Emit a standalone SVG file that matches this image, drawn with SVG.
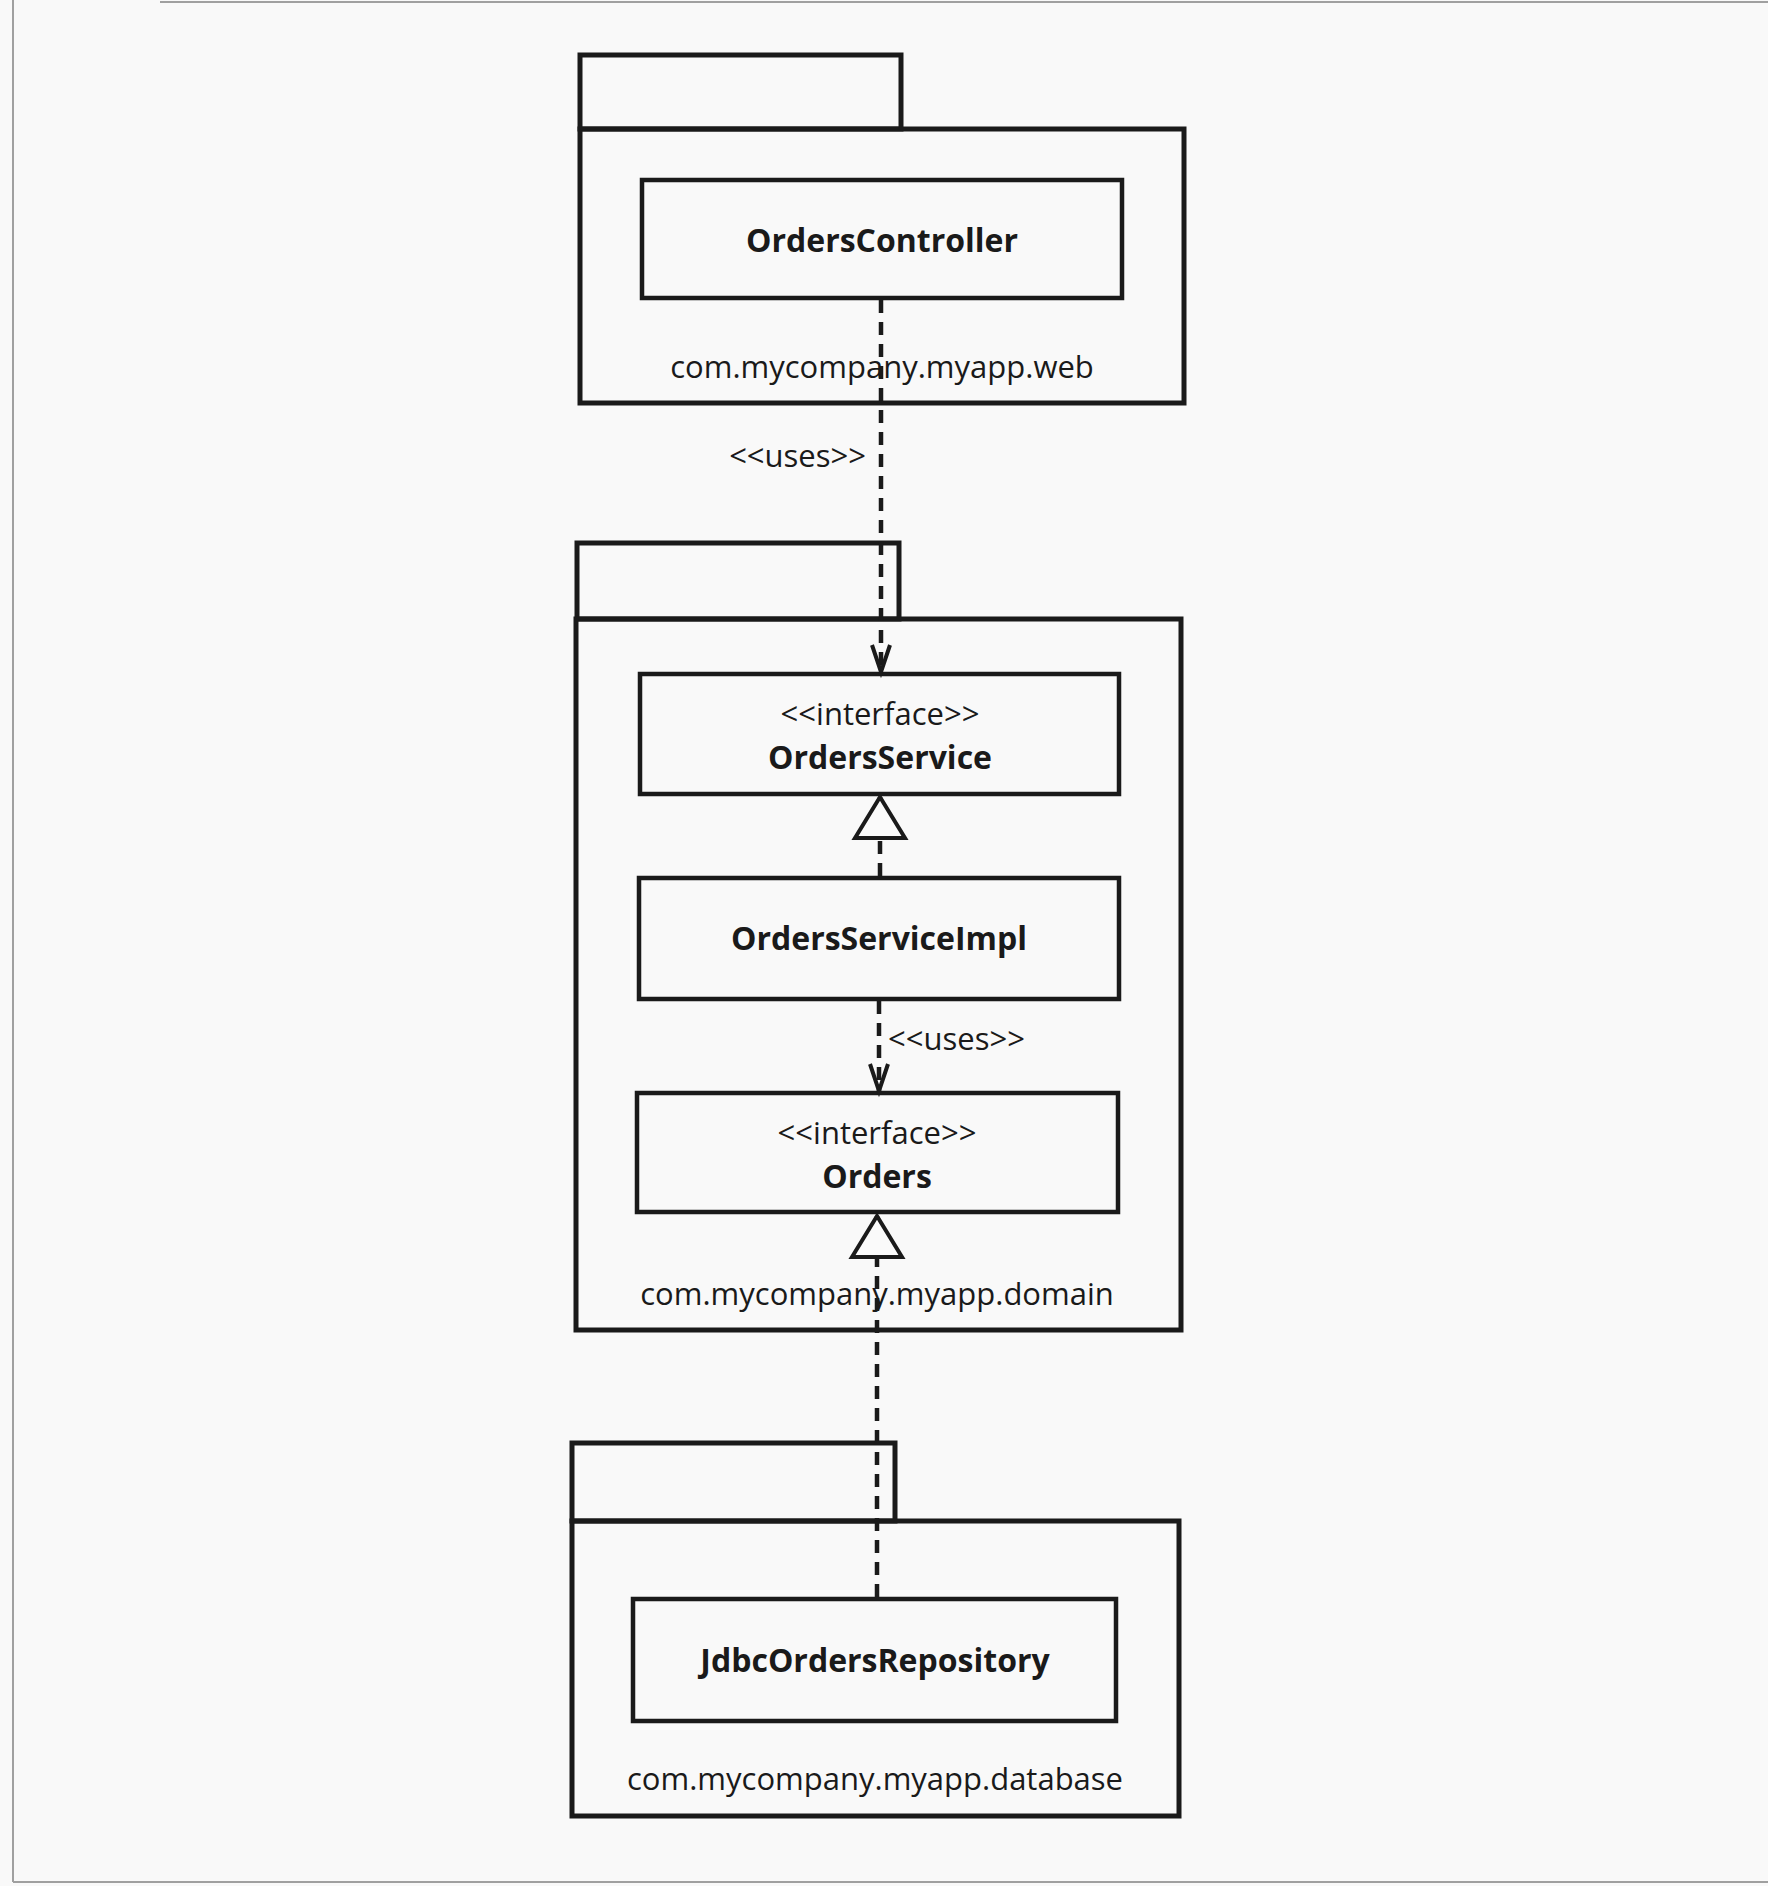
<svg xmlns="http://www.w3.org/2000/svg" width="1768" height="1886" viewBox="0 0 1768 1886">
<style>
.pkg{fill:none;stroke:#1a1a1a;stroke-width:5}
.cls{fill:none;stroke:#1a1a1a;stroke-width:4.5}
.t{font-family:"Open Sans","Noto Sans","Liberation Sans",sans-serif;font-size:31px;fill:#1a1a1a;text-anchor:middle}
.b{font-weight:bold;font-size:32px}
.dash{fill:none;stroke:#1a1a1a;stroke-width:4.5;stroke-dasharray:13 9}
.edge{stroke:#a0a0a0;stroke-width:2;fill:none}
</style>
<defs>
<marker id="open" viewBox="0 0 28 20" refX="27" refY="10" markerWidth="28" markerHeight="20" markerUnits="userSpaceOnUse" orient="auto" overflow="visible">
<path d="M0,1 L27,10 L0,19" fill="none" stroke="#1a1a1a" stroke-width="4"/>
</marker>
<marker id="tri" viewBox="0 0 41 50" refX="41" refY="25" markerWidth="41" markerHeight="50" markerUnits="userSpaceOnUse" orient="auto" overflow="visible">
<path d="M0,0 L41,25 L0,50 Z" fill="#fafafa" stroke="#1a1a1a" stroke-width="4" stroke-linejoin="miter"/>
</marker>
</defs>
<rect x="0" y="0" width="1768" height="1886" fill="#f9f9f9"/>
<g id="page-edge">
<line class="edge" x1="13" y1="0" x2="13" y2="1882"/>
<line class="edge" x1="13" y1="1882" x2="1768" y2="1882"/>
<line class="edge" x1="160" y1="2" x2="1768" y2="2" stroke="#c8c8c8"/>
</g>
<g id="pkg-web">
<rect class="pkg" x="580" y="55" width="321" height="74"/>
<rect class="pkg" x="580" y="129" width="604" height="274"/>
<text class="t" x="882" y="378">com.mycompany.myapp.web</text>
</g>
<g id="OrdersController">
<rect class="cls" x="642" y="180" width="480" height="118"/>
<text class="t b" x="882" y="252">OrdersController</text>
</g>
<g id="pkg-domain">
<rect class="pkg" x="577" y="543" width="322" height="76"/>
<rect class="pkg" x="576" y="619" width="605" height="711"/>
<text class="t" x="877" y="1305">com.mycompany.myapp.domain</text>
</g>
<g id="OrdersService">
<rect class="cls" x="640" y="674" width="479" height="120"/>
<text class="t" x="880" y="725">&lt;&lt;interface&gt;&gt;</text>
<text class="t b" x="880" y="769">OrdersService</text>
</g>
<g id="OrdersServiceImpl">
<rect class="cls" x="639" y="878" width="480" height="121"/>
<text class="t b" x="879" y="950">OrdersServiceImpl</text>
</g>
<g id="Orders">
<rect class="cls" x="637" y="1093" width="481" height="119"/>
<text class="t" x="877" y="1144">&lt;&lt;interface&gt;&gt;</text>
<text class="t b" x="877" y="1188">Orders</text>
</g>
<g id="pkg-database">
<rect class="pkg" x="572" y="1443" width="323" height="78"/>
<rect class="pkg" x="572" y="1521" width="607" height="295"/>
<text class="t" x="875" y="1790">com.mycompany.myapp.database</text>
</g>
<g id="JdbcOrdersRepository">
<rect class="cls" x="633" y="1599" width="483" height="122"/>
<text class="t b" x="875" y="1672">JdbcOrdersRepository</text>
</g>
<g id="connectors">
<path class="dash" d="M881,300 L881,672" marker-end="url(#open)"/>
<text class="t" x="866" y="467" style="text-anchor:end">&lt;&lt;uses&gt;&gt;</text>
<path class="dash" d="M880,876 L880,797" marker-end="url(#tri)"/>
<path class="dash" d="M879,1001 L879,1091" marker-end="url(#open)"/>
<text class="t" x="888" y="1050" style="text-anchor:start">&lt;&lt;uses&gt;&gt;</text>
<path class="dash" d="M877,1597 L877,1216" marker-end="url(#tri)"/>
</g>
</svg>
